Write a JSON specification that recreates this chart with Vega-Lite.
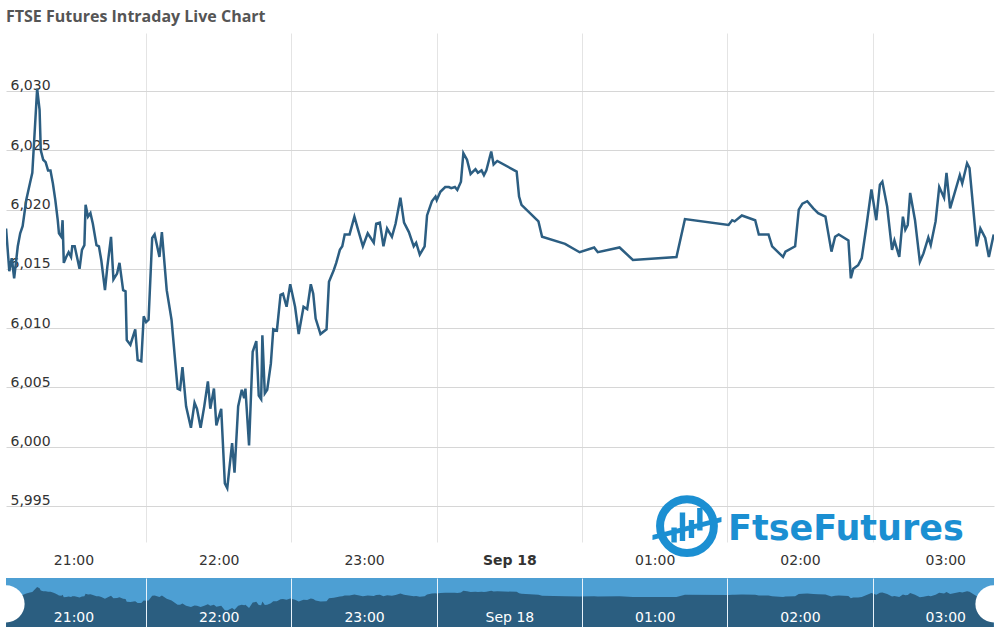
{
  "$schema": "https://vega.github.io/schema/vega-lite/v6.json",
  "background": "white",
  "padding": {"left": 6, "right": 6, "top": 9, "bottom": 0},
  "title": {"text": "FTSE Futures Intraday Live Chart", "anchor": "start", "frame": "group", "font": "Open Sans", "fontSize": 16, "fontWeight": "bold", "color": "#555555", "offset": 8},
  "config": {"view": {"stroke": null}},
  "spacing": 8,
  "datasets": {
    "s": [
      {"t": "2020-09-17T20:32:10", "v": 6018.4},
      {"t": "2020-09-17T20:33:30", "v": 6014.8},
      {"t": "2020-09-17T20:34:30", "v": 6015.9},
      {"t": "2020-09-17T20:35:30", "v": 6014.2},
      {"t": "2020-09-17T20:37:00", "v": 6016.9},
      {"t": "2020-09-17T20:38:00", "v": 6018.0},
      {"t": "2020-09-17T20:39:00", "v": 6018.6},
      {"t": "2020-09-17T20:40:30", "v": 6020.8},
      {"t": "2020-09-17T20:42:00", "v": 6022.2},
      {"t": "2020-09-17T20:43:00", "v": 6023.1},
      {"t": "2020-09-17T20:45:00", "v": 6030.2},
      {"t": "2020-09-17T20:46:00", "v": 6028.4},
      {"t": "2020-09-17T20:46:30", "v": 6025.0},
      {"t": "2020-09-17T20:47:30", "v": 6024.2},
      {"t": "2020-09-17T20:48:30", "v": 6024.0},
      {"t": "2020-09-17T20:49:30", "v": 6023.3},
      {"t": "2020-09-17T20:50:30", "v": 6023.3},
      {"t": "2020-09-17T20:51:30", "v": 6022.2},
      {"t": "2020-09-17T20:52:30", "v": 6020.8},
      {"t": "2020-09-17T20:53:30", "v": 6019.1},
      {"t": "2020-09-17T20:54:00", "v": 6018.0},
      {"t": "2020-09-17T20:55:00", "v": 6017.7},
      {"t": "2020-09-17T20:55:30", "v": 6019.1},
      {"t": "2020-09-17T20:56:00", "v": 6015.5},
      {"t": "2020-09-17T20:57:00", "v": 6016.0},
      {"t": "2020-09-17T20:58:00", "v": 6016.4},
      {"t": "2020-09-17T20:59:00", "v": 6016.0},
      {"t": "2020-09-17T20:59:30", "v": 6016.9},
      {"t": "2020-09-17T21:00:30", "v": 6016.9},
      {"t": "2020-09-17T21:02:30", "v": 6015.0},
      {"t": "2020-09-17T21:03:30", "v": 6016.6},
      {"t": "2020-09-17T21:04:30", "v": 6017.0},
      {"t": "2020-09-17T21:05:00", "v": 6020.4},
      {"t": "2020-09-17T21:06:00", "v": 6019.4},
      {"t": "2020-09-17T21:07:00", "v": 6019.7},
      {"t": "2020-09-17T21:08:00", "v": 6018.8},
      {"t": "2020-09-17T21:09:30", "v": 6017.0},
      {"t": "2020-09-17T21:10:30", "v": 6016.9},
      {"t": "2020-09-17T21:11:30", "v": 6015.7},
      {"t": "2020-09-17T21:13:00", "v": 6013.2},
      {"t": "2020-09-17T21:14:00", "v": 6015.2},
      {"t": "2020-09-17T21:15:30", "v": 6017.7},
      {"t": "2020-09-17T21:16:30", "v": 6014.1},
      {"t": "2020-09-17T21:18:00", "v": 6014.6},
      {"t": "2020-09-17T21:19:00", "v": 6015.5},
      {"t": "2020-09-17T21:20:30", "v": 6013.2},
      {"t": "2020-09-17T21:21:30", "v": 6013.1},
      {"t": "2020-09-17T21:22:00", "v": 6009.0},
      {"t": "2020-09-17T21:23:30", "v": 6008.6},
      {"t": "2020-09-17T21:25:30", "v": 6009.9},
      {"t": "2020-09-17T21:26:30", "v": 6007.3},
      {"t": "2020-09-17T21:28:00", "v": 6007.2},
      {"t": "2020-09-17T21:29:00", "v": 6011.0},
      {"t": "2020-09-17T21:30:00", "v": 6010.5},
      {"t": "2020-09-17T21:31:00", "v": 6010.7},
      {"t": "2020-09-17T21:32:30", "v": 6017.6},
      {"t": "2020-09-17T21:33:30", "v": 6017.9},
      {"t": "2020-09-17T21:35:30", "v": 6016.0},
      {"t": "2020-09-17T21:36:30", "v": 6018.1},
      {"t": "2020-09-17T21:38:30", "v": 6013.2},
      {"t": "2020-09-17T21:40:30", "v": 6010.7},
      {"t": "2020-09-17T21:43:00", "v": 6004.9},
      {"t": "2020-09-17T21:44:00", "v": 6004.8},
      {"t": "2020-09-17T21:45:00", "v": 6006.7},
      {"t": "2020-09-17T21:46:30", "v": 6003.4},
      {"t": "2020-09-17T21:48:30", "v": 6001.6},
      {"t": "2020-09-17T21:50:00", "v": 6003.7},
      {"t": "2020-09-17T21:51:00", "v": 6003.2},
      {"t": "2020-09-17T21:52:30", "v": 6001.6},
      {"t": "2020-09-17T21:54:00", "v": 6003.4},
      {"t": "2020-09-17T21:55:30", "v": 6005.5},
      {"t": "2020-09-17T21:56:30", "v": 6003.2},
      {"t": "2020-09-17T21:58:00", "v": 6004.9},
      {"t": "2020-09-17T21:59:00", "v": 6001.8},
      {"t": "2020-09-17T22:01:00", "v": 6003.2},
      {"t": "2020-09-17T22:02:30", "v": 5996.9},
      {"t": "2020-09-17T22:03:30", "v": 5996.5},
      {"t": "2020-09-17T22:05:30", "v": 6000.3},
      {"t": "2020-09-17T22:06:30", "v": 5997.8},
      {"t": "2020-09-17T22:08:00", "v": 6003.4},
      {"t": "2020-09-17T22:09:30", "v": 6004.8},
      {"t": "2020-09-17T22:10:30", "v": 6004.1},
      {"t": "2020-09-17T22:11:00", "v": 6004.9},
      {"t": "2020-09-17T22:12:30", "v": 6000.1},
      {"t": "2020-09-17T22:14:00", "v": 6008.0},
      {"t": "2020-09-17T22:15:30", "v": 6008.9},
      {"t": "2020-09-17T22:16:30", "v": 6004.3},
      {"t": "2020-09-17T22:17:30", "v": 6004.0},
      {"t": "2020-09-17T22:18:00", "v": 6009.4},
      {"t": "2020-09-17T22:19:00", "v": 6004.5},
      {"t": "2020-09-17T22:20:00", "v": 6004.8},
      {"t": "2020-09-17T22:21:30", "v": 6007.0},
      {"t": "2020-09-17T22:22:30", "v": 6009.9},
      {"t": "2020-09-17T22:24:00", "v": 6009.8},
      {"t": "2020-09-17T22:25:30", "v": 6012.8},
      {"t": "2020-09-17T22:26:30", "v": 6012.9},
      {"t": "2020-09-17T22:28:00", "v": 6011.8},
      {"t": "2020-09-17T22:29:30", "v": 6013.7},
      {"t": "2020-09-17T22:31:30", "v": 6011.8},
      {"t": "2020-09-17T22:33:00", "v": 6009.5},
      {"t": "2020-09-17T22:35:00", "v": 6011.8},
      {"t": "2020-09-17T22:36:30", "v": 6011.6},
      {"t": "2020-09-17T22:38:00", "v": 6013.7},
      {"t": "2020-09-17T22:39:00", "v": 6012.9},
      {"t": "2020-09-17T22:40:00", "v": 6010.8},
      {"t": "2020-09-17T22:42:00", "v": 6009.5},
      {"t": "2020-09-17T22:44:30", "v": 6009.9},
      {"t": "2020-09-17T22:45:30", "v": 6013.9},
      {"t": "2020-09-17T22:47:30", "v": 6014.9},
      {"t": "2020-09-17T22:48:30", "v": 6015.5},
      {"t": "2020-09-17T22:50:00", "v": 6016.6},
      {"t": "2020-09-17T22:51:00", "v": 6016.9},
      {"t": "2020-09-17T22:52:00", "v": 6017.9},
      {"t": "2020-09-17T22:54:00", "v": 6017.9},
      {"t": "2020-09-17T22:56:00", "v": 6019.4},
      {"t": "2020-09-17T22:57:30", "v": 6018.3},
      {"t": "2020-09-17T22:59:30", "v": 6016.9},
      {"t": "2020-09-17T23:01:30", "v": 6018.0},
      {"t": "2020-09-17T23:04:00", "v": 6017.2},
      {"t": "2020-09-17T23:05:00", "v": 6018.8},
      {"t": "2020-09-17T23:06:30", "v": 6018.9},
      {"t": "2020-09-17T23:08:00", "v": 6016.9},
      {"t": "2020-09-17T23:09:30", "v": 6018.4},
      {"t": "2020-09-17T23:11:30", "v": 6017.7},
      {"t": "2020-09-17T23:13:00", "v": 6018.8},
      {"t": "2020-09-17T23:15:00", "v": 6021.0},
      {"t": "2020-09-17T23:16:30", "v": 6018.9},
      {"t": "2020-09-17T23:18:30", "v": 6018.1},
      {"t": "2020-09-17T23:20:30", "v": 6016.9},
      {"t": "2020-09-17T23:21:30", "v": 6017.2},
      {"t": "2020-09-17T23:23:00", "v": 6016.2},
      {"t": "2020-09-17T23:25:00", "v": 6016.9},
      {"t": "2020-09-17T23:26:00", "v": 6019.5},
      {"t": "2020-09-17T23:28:00", "v": 6020.7},
      {"t": "2020-09-17T23:29:30", "v": 6021.1},
      {"t": "2020-09-17T23:30:00", "v": 6020.8},
      {"t": "2020-09-17T23:31:30", "v": 6021.5},
      {"t": "2020-09-17T23:33:30", "v": 6021.9},
      {"t": "2020-09-17T23:35:00", "v": 6021.9},
      {"t": "2020-09-17T23:36:00", "v": 6021.8},
      {"t": "2020-09-17T23:37:30", "v": 6021.9},
      {"t": "2020-09-17T23:38:30", "v": 6021.65},
      {"t": "2020-09-17T23:40:00", "v": 6022.35},
      {"t": "2020-09-17T23:41:00", "v": 6024.75},
      {"t": "2020-09-17T23:42:30", "v": 6024.2},
      {"t": "2020-09-17T23:44:00", "v": 6023.0},
      {"t": "2020-09-17T23:46:00", "v": 6023.4},
      {"t": "2020-09-17T23:47:00", "v": 6023.1},
      {"t": "2020-09-17T23:48:30", "v": 6023.3},
      {"t": "2020-09-17T23:49:30", "v": 6022.9},
      {"t": "2020-09-17T23:50:30", "v": 6023.3},
      {"t": "2020-09-17T23:52:30", "v": 6024.9},
      {"t": "2020-09-17T23:53:30", "v": 6023.8},
      {"t": "2020-09-17T23:55:00", "v": 6024.1},
      {"t": "2020-09-18T00:03:00", "v": 6023.2},
      {"t": "2020-09-18T00:04:00", "v": 6021.1},
      {"t": "2020-09-18T00:05:00", "v": 6020.4},
      {"t": "2020-09-18T00:12:00", "v": 6019.0},
      {"t": "2020-09-18T00:13:30", "v": 6017.7},
      {"t": "2020-09-18T00:23:00", "v": 6017.1},
      {"t": "2020-09-18T00:29:00", "v": 6016.4},
      {"t": "2020-09-18T00:35:00", "v": 6016.8},
      {"t": "2020-09-18T00:36:30", "v": 6016.4},
      {"t": "2020-09-18T00:45:30", "v": 6016.8},
      {"t": "2020-09-18T00:51:00", "v": 6015.75},
      {"t": "2020-09-18T01:09:00", "v": 6016.0},
      {"t": "2020-09-18T01:12:30", "v": 6019.2},
      {"t": "2020-09-18T01:30:30", "v": 6018.7},
      {"t": "2020-09-18T01:32:00", "v": 6019.1},
      {"t": "2020-09-18T01:33:00", "v": 6019.0},
      {"t": "2020-09-18T01:36:00", "v": 6019.5},
      {"t": "2020-09-18T01:41:30", "v": 6019.1},
      {"t": "2020-09-18T01:43:00", "v": 6017.9},
      {"t": "2020-09-18T01:47:00", "v": 6017.9},
      {"t": "2020-09-18T01:48:30", "v": 6016.9},
      {"t": "2020-09-18T01:53:00", "v": 6016.0},
      {"t": "2020-09-18T01:54:00", "v": 6016.45},
      {"t": "2020-09-18T01:58:00", "v": 6016.9},
      {"t": "2020-09-18T01:59:30", "v": 6020.0},
      {"t": "2020-09-18T02:01:00", "v": 6020.5},
      {"t": "2020-09-18T02:03:00", "v": 6020.7},
      {"t": "2020-09-18T02:05:30", "v": 6020.1},
      {"t": "2020-09-18T02:07:30", "v": 6019.7},
      {"t": "2020-09-18T02:10:30", "v": 6019.4},
      {"t": "2020-09-18T02:13:00", "v": 6016.45},
      {"t": "2020-09-18T02:14:30", "v": 6017.7},
      {"t": "2020-09-18T02:16:00", "v": 6017.9},
      {"t": "2020-09-18T02:20:00", "v": 6017.4},
      {"t": "2020-09-18T02:21:00", "v": 6014.2},
      {"t": "2020-09-18T02:22:00", "v": 6015.0},
      {"t": "2020-09-18T02:24:00", "v": 6015.3},
      {"t": "2020-09-18T02:25:30", "v": 6015.9},
      {"t": "2020-09-18T02:27:30", "v": 6018.7},
      {"t": "2020-09-18T02:29:30", "v": 6021.7},
      {"t": "2020-09-18T02:31:30", "v": 6019.1},
      {"t": "2020-09-18T02:33:00", "v": 6022.1},
      {"t": "2020-09-18T02:34:00", "v": 6022.35},
      {"t": "2020-09-18T02:36:00", "v": 6020.25},
      {"t": "2020-09-18T02:38:00", "v": 6016.6},
      {"t": "2020-09-18T02:39:00", "v": 6017.4},
      {"t": "2020-09-18T02:41:00", "v": 6016.0},
      {"t": "2020-09-18T02:42:30", "v": 6019.4},
      {"t": "2020-09-18T02:43:30", "v": 6018.3},
      {"t": "2020-09-18T02:44:30", "v": 6018.7},
      {"t": "2020-09-18T02:45:30", "v": 6021.4},
      {"t": "2020-09-18T02:47:30", "v": 6019.1},
      {"t": "2020-09-18T02:49:30", "v": 6015.6},
      {"t": "2020-09-18T02:51:00", "v": 6016.3},
      {"t": "2020-09-18T02:53:00", "v": 6017.65},
      {"t": "2020-09-18T02:54:00", "v": 6017.0},
      {"t": "2020-09-18T02:56:00", "v": 6019.0},
      {"t": "2020-09-18T02:57:30", "v": 6021.9},
      {"t": "2020-09-18T02:59:30", "v": 6021.0},
      {"t": "2020-09-18T03:00:30", "v": 6023.1},
      {"t": "2020-09-18T03:02:00", "v": 6020.1},
      {"t": "2020-09-18T03:06:00", "v": 6022.9},
      {"t": "2020-09-18T03:07:00", "v": 6022.2},
      {"t": "2020-09-18T03:09:00", "v": 6023.9},
      {"t": "2020-09-18T03:10:00", "v": 6023.5},
      {"t": "2020-09-18T03:13:00", "v": 6016.9},
      {"t": "2020-09-18T03:14:30", "v": 6018.4},
      {"t": "2020-09-18T03:16:30", "v": 6017.6},
      {"t": "2020-09-18T03:18:00", "v": 6016.0},
      {"t": "2020-09-18T03:20:00", "v": 6017.9}
    ]
  },
  "vconcat": [
    {
      "width": 988,
      "height": 509,
      "encoding": {
        "y": {"field": "v", "type": "quantitative",
          "scale": {"domain": [5991.96, 6034.89], "zero": false, "nice": false},
          "axis": {"values": [5995, 6000, 6005, 6010, 6015, 6020, 6025, 6030], "format": ",d", "orient": "left", "grid": true, "gridColor": "#d6d6d6", "ticks": false, "domain": false, "labelAlign": "left", "labelBaseline": "alphabetic", "labelPadding": -4, "labelOffset": -1, "labelFont": "DejaVu Sans", "labelFontSize": 14, "labelColor": "#333333", "labelFlush": false, "title": null}}
      },
      "resolve": {"axis": {"x": "independent"}},
      "layer": [
        {
          "data": {"values": [{"t": "2020-09-18T01:13:20", "v": 5993.3}]},
          "mark": {"type": "point", "shape": "circle", "filled": false, "stroke": "#1b8fd2", "strokeWidth": 8, "size": 2900, "opacity": 1},
          "encoding": {
            "x": {"field": "t", "type": "temporal",
              "scale": {"domain": [{"year": 2020, "month": 9, "date": 17, "hours": 20, "minutes": 32, "seconds": 8}, {"year": 2020, "month": 9, "date": 18, "hours": 3, "minutes": 20, "seconds": 7}]},
              "axis": {"orient": "top", "values": [
                {"year": 2020, "month": 9, "date": 17, "hours": 21, "minutes": 30},
                {"year": 2020, "month": 9, "date": 17, "hours": 22, "minutes": 30},
                {"year": 2020, "month": 9, "date": 17, "hours": 23, "minutes": 30},
                {"year": 2020, "month": 9, "date": 18, "hours": 0, "minutes": 30},
                {"year": 2020, "month": 9, "date": 18, "hours": 1, "minutes": 30},
                {"year": 2020, "month": 9, "date": 18, "hours": 2, "minutes": 30}],
                "labels": false, "ticks": false, "domain": false, "grid": true, "gridColor": "#e4e4e4", "title": null}}
          }
        },
        {
          "data": {"values": [{"t": "2020-09-18T01:13:20", "v": 5993.3}]},
          "mark": {"type": "point", "shape": "M-0.52,0.05 h0.18 v0.5 h-0.18 Z M-0.24,-0.45 h0.18 v0.95 h-0.18 Z M0.06,-0.2 h0.18 v0.6 h-0.18 Z M0.34,-0.6 h0.18 v0.75 h-0.18 Z M-1.15,0.3 L1.15,-0.3 L1.15,-0.14 L-1.15,0.46 Z", "filled": true, "color": "#1b8fd2", "size": 3600, "opacity": 1},
          "encoding": {
            "x": {"field": "t", "type": "temporal",
              "scale": {"domain": [{"year": 2020, "month": 9, "date": 17, "hours": 20, "minutes": 32, "seconds": 8}, {"year": 2020, "month": 9, "date": 18, "hours": 3, "minutes": 20, "seconds": 7}]},
              "axis": null}
          }
        },
        {
          "data": {"values": [{"t": "2020-09-18T01:30:18", "v": 5992.1, "label": "FtseFutures"}]},
          "mark": {"type": "text", "align": "left", "baseline": "alphabetic", "font": "DejaVu Sans", "fontSize": 35, "fontWeight": "bold", "color": "#1b8fd2"},
          "encoding": {
            "x": {"field": "t", "type": "temporal",
              "scale": {"domain": [{"year": 2020, "month": 9, "date": 17, "hours": 20, "minutes": 32, "seconds": 8}, {"year": 2020, "month": 9, "date": 18, "hours": 3, "minutes": 20, "seconds": 7}]},
              "axis": null},
            "text": {"field": "label"}
          }
        },
        {
          "data": {"name": "s"},
          "mark": {"type": "line", "color": "#2c5e82", "strokeWidth": 2.5, "clip": true},
          "encoding": {
            "x": {"field": "t", "type": "temporal",
              "scale": {"domain": [{"year": 2020, "month": 9, "date": 17, "hours": 20, "minutes": 32, "seconds": 8}, {"year": 2020, "month": 9, "date": 18, "hours": 3, "minutes": 20, "seconds": 7}]},
              "axis": {"orient": "bottom", "values": [
                {"year": 2020, "month": 9, "date": 17, "hours": 21},
                {"year": 2020, "month": 9, "date": 17, "hours": 22},
                {"year": 2020, "month": 9, "date": 17, "hours": 23},
                {"year": 2020, "month": 9, "date": 18, "hours": 0},
                {"year": 2020, "month": 9, "date": 18, "hours": 1},
                {"year": 2020, "month": 9, "date": 18, "hours": 2},
                {"year": 2020, "month": 9, "date": 18, "hours": 3}],
                "labelExpr": "hours(datum.value) === 0 ? timeFormat(datum.value, '%b %d') : timeFormat(datum.value, '%H:%M')",
                "labelFontWeight": {"condition": {"test": "hours(datum.value) === 0", "value": "bold"}, "value": "normal"},
                "grid": false, "ticks": false, "domain": false, "labelFont": "DejaVu Sans", "labelFontSize": 14, "labelColor": "#333333", "labelPadding": 11, "labelFlush": false, "labelOverlap": false, "title": null}}
          }
        }
      ]
    },
    {
      "width": 988,
      "height": 49,
      "view": {"fill": "#4d9fd3", "stroke": null},
      "encoding": {
        "y": {"field": "v", "type": "quantitative", "scale": {"domain": [5973, 6043], "zero": false, "nice": false}, "axis": null}
      },
      "resolve": {"axis": {"x": "independent"}},
      "layer": [
        {
          "data": {"name": "s"},
          "mark": {"type": "area", "color": "#2b5e80", "opacity": 1, "clip": true},
          "encoding": {
            "x": {"field": "t", "type": "temporal",
              "scale": {"domain": [{"year": 2020, "month": 9, "date": 17, "hours": 20, "minutes": 32, "seconds": 8}, {"year": 2020, "month": 9, "date": 18, "hours": 3, "minutes": 20, "seconds": 7}]},
              "axis": {"orient": "top", "values": [
                {"year": 2020, "month": 9, "date": 17, "hours": 21, "minutes": 30},
                {"year": 2020, "month": 9, "date": 17, "hours": 22, "minutes": 30},
                {"year": 2020, "month": 9, "date": 17, "hours": 23, "minutes": 30},
                {"year": 2020, "month": 9, "date": 18, "hours": 0, "minutes": 30},
                {"year": 2020, "month": 9, "date": 18, "hours": 1, "minutes": 30},
                {"year": 2020, "month": 9, "date": 18, "hours": 2, "minutes": 30}],
                "labels": false, "ticks": false, "domain": false, "grid": true, "gridColor": "#e8f3fb", "gridOpacity": 1, "zindex": 1, "title": null}}
          }
        },
        {
          "data": {"values": [{"t": "2020-09-17T20:32:08", "v": 6006}, {"t": "2020-09-18T03:20:07", "v": 6006}]},
          "mark": {"type": "point", "shape": "circle", "filled": true, "color": "white", "size": 1385, "opacity": 1, "clip": true},
          "encoding": {
            "x": {"field": "t", "type": "temporal",
              "scale": {"domain": [{"year": 2020, "month": 9, "date": 17, "hours": 20, "minutes": 32, "seconds": 8}, {"year": 2020, "month": 9, "date": 18, "hours": 3, "minutes": 20, "seconds": 7}]},
              "axis": {"orient": "bottom", "values": [
                {"year": 2020, "month": 9, "date": 17, "hours": 21},
                {"year": 2020, "month": 9, "date": 17, "hours": 22},
                {"year": 2020, "month": 9, "date": 17, "hours": 23},
                {"year": 2020, "month": 9, "date": 18, "hours": 0},
                {"year": 2020, "month": 9, "date": 18, "hours": 1},
                {"year": 2020, "month": 9, "date": 18, "hours": 2},
                {"year": 2020, "month": 9, "date": 18, "hours": 3}],
                "labelExpr": "hours(datum.value) === 0 ? timeFormat(datum.value, '%b %d') : timeFormat(datum.value, '%H:%M')",
                "grid": false, "ticks": false, "domain": false, "labelFont": "DejaVu Sans", "labelFontSize": 14, "labelColor": "white", "labelBaseline": "alphabetic", "labelPadding": -6, "labelFlush": false, "labelOverlap": false, "zindex": 1, "title": null}}
          }
        }
      ]
    }
  ]
}
